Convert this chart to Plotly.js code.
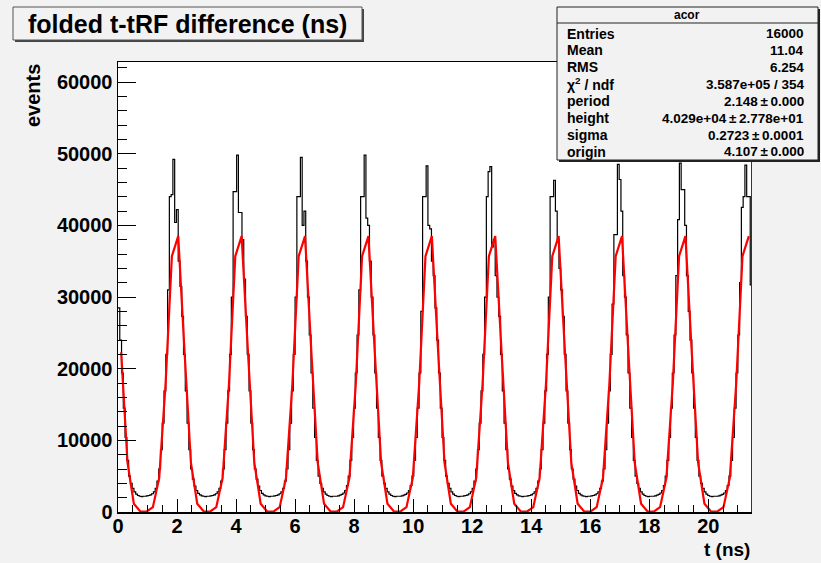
<!DOCTYPE html>
<html>
<head>
<meta charset="utf-8">
<script src="https://cdn.plot.ly/plotly-3.0.1.min.js"></script>
<style>html,body{margin:0;padding:0;background:#f2f2f2;}#chart{width:821px;height:563px;}</style>
</head>
<body>
<div id="chart"></div>
<script>
// Histogram: 358 bins of 0.06 ns over [0, 21.48]
const binStart = 0;
const binWidth = 0.06;
const counts = [
28500,24000,19400,14500,10400,7200,5000,4000,3300,2800,2500,2300,2200,2150,2200,
2200,2250,2300,2400,2550,2800,3300,4300,6000,8700,12400,16900,22000,31000,44000,44300,49200,40400,42200,35000,31500,27300,22000,16900,12400,8700,6000,4600,3600,3000,2600,2400,2250,2200,2150,2200,
2200,2250,2300,2400,2550,2800,3300,4300,6000,8700,12400,16900,22000,30000,44700,44700,49800,41800,41800,38000,32500,27300,22000,16900,12400,8700,6000,4600,3600,3000,2600,2400,2250,2200,2150,
2200,2200,2250,2300,2400,2550,2800,3300,4300,6000,8700,12400,16900,22000,30000,44000,44000,49500,40000,42000,35000,30000,24700,19400,14500,10400,7200,5000,4000,3300,2800,2500,2300,2200,2150,2200,
2200,2200,2250,2350,2450,2650,3000,3700,5000,7200,10400,14500,19400,24700,31000,44000,44000,49800,41000,40000,35000,30000,24700,19400,14500,10400,7200,5000,4000,3300,2800,2500,2300,2200,2150,2200,
2200,2200,2250,2350,2450,2650,3000,3700,5000,7200,10400,14500,19400,28000,44000,44000,48300,40000,39500,35000,33000,28500,24000,19400,14500,10400,7200,5000,4000,3300,2800,2500,2300,2200,2150,2200,
2200,2250,2300,2400,2550,2800,3300,4300,6000,8700,12400,16900,22000,30000,44000,47500,48200,37000,38000,33000,30000,27300,22000,16900,12400,8700,6000,4600,3600,3000,2600,2400,2250,2200,2150,2200,
2200,2250,2300,2400,2550,2800,3300,4300,6000,8700,12400,16900,22000,30000,44000,44000,46300,42000,38000,34000,31000,27300,22000,16900,12400,8700,6000,4600,3600,3000,2600,2400,2250,2200,2150,
2200,2200,2250,2300,2400,2550,2800,3300,4300,6000,8700,12400,16900,22000,29000,38700,38700,48500,46400,42000,33000,30000,24700,19400,14500,10400,7200,5000,4000,3300,2800,2500,2300,2200,2150,2200,
2200,2200,2250,2350,2450,2650,3000,3700,5000,7200,10400,14500,19400,24700,33000,40800,48700,45000,45000,40000,33000,28000,24000,19400,14500,10400,7200,5000,4000,3300,2800,2500,2300,2200,2150,2200,
2200,2200,2250,2350,2450,2650,3000,3700,5000,7200,10400,14500,19400,24700,32000,42500,44000,48400,44000,44000,31700
];

// Fit curve as drawn: 100 points, first at 0.1074 ns, spacing 0.2148 ns
const fitStart = 0.1074;
const fitStep = 0.2148;
const fitValues = [
22300,6900,1150,100,50,680,4760,17800,35700,38500,
22300,6900,1150,100,50,680,4760,17800,35700,38500,
22300,6900,1150,100,50,680,4760,17800,35700,38500,
22300,6900,1150,100,50,680,4760,17800,35700,38500,
22300,6900,1150,100,50,680,4760,17800,35700,38500,
22300,6900,1150,100,50,680,4760,17800,35700,38500,
22300,6900,1150,100,50,680,4760,17800,35700,38500,
22300,6900,1150,100,50,680,4760,17800,35700,38500,
22300,6900,1150,100,50,680,4760,17800,35700,38500,
22300,6900,1150,100,50,680,4760,17800,35700,38500
];

const xMax = 21.48;
const yMax = 62800;
const yTicks = [0,10000,20000,30000,40000,50000,60000];

const titleText = "folded t-tRF difference (ns)";
const statsName = "acor";
const statsLabels = ["Entries","Mean","RMS","χ<sup>2</sup> / ndf","period","height","sigma","origin"];
const statsValues = ["16000","11.04","6.254","3.587e+05 / 354","2.148\u2009±\u20090.000","4.029e+04\u2009±\u20092.778e+01","0.2723\u2009±\u20090.0001","4.107\u2009±\u20090.000"];

// ---- layout helpers (pixel -> paper) ----
const L = 118, R = 752, T = 62, B = 512;
const W = R - L, H = B - T;
const px = v => (v - L) / W;
const py = v => (B - v) / H;
const FONT = "'Liberation Sans', Arial, Helvetica, sans-serif";

const histY = counts.concat([counts[counts.length - 1]]);

const traces = [
  {type:'scatter', mode:'lines', x0:binStart, dx:binWidth, y:histY,
   line:{shape:'hv', color:'#000', width:1.2}, hoverinfo:'skip'},
  {type:'scatter', mode:'lines', x0:fitStart, dx:fitStep, y:fitValues,
   line:{color:'#ff0000', width:2.2}, hoverinfo:'skip'}
];

const shapes = [
  // right frame (red)
  {type:'line', layer:'above', xref:'x', yref:'paper', x0:xMax, x1:xMax, y0:0, y1:1, line:{color:'#b00000', width:2}},
  // title box shadow + box
  {type:'rect', xref:'paper', yref:'paper', x0:px(15), x1:px(364), y0:py(42), y1:py(9), fillcolor:'#444', line:{width:0}},
  {type:'rect', xref:'paper', yref:'paper', x0:px(13), x1:px(362), y0:py(40), y1:py(7), fillcolor:'#f2f2f2', line:{color:'#555', width:1}},
  // stats box shadow + box
  {type:'rect', xref:'paper', yref:'paper', x0:px(559), x1:px(820), y0:py(162), y1:py(9), fillcolor:'#222', line:{width:0}},
  {type:'rect', xref:'paper', yref:'paper', x0:px(557), x1:px(818), y0:py(160), y1:py(7), fillcolor:'#f2f2f2', line:{color:'#222', width:1}},
  {type:'line', xref:'paper', yref:'paper', x0:px(557), x1:px(818), y0:py(23), y1:py(23), line:{color:'#222', width:1}}
];

const annotations = [
  {xref:'paper', yref:'paper', x:px(187), y:py(24), text:titleText, showarrow:false,
   xanchor:'center', yanchor:'middle', font:{family:FONT, size:25, weight:'bold', color:'#000'}},
  {xref:'paper', yref:'paper', x:px(687), y:py(15), text:statsName, showarrow:false,
   xanchor:'center', yanchor:'middle', font:{family:FONT, size:12, weight:'bold', color:'#000'}},
  {xref:'paper', yref:'paper', x:px(33), y:py(96), text:'events', textangle:-90, showarrow:false,
   xanchor:'center', yanchor:'middle', font:{family:FONT, size:20, weight:'bold', color:'#000'}},
  {xref:'paper', yref:'paper', x:1, y:py(549), text:'t (ns)', showarrow:false,
   xanchor:'right', yanchor:'middle', font:{family:FONT, size:19, weight:'bold', color:'#000'}}
];
const rowY = [33.5,50.4,67.3,84.2,101,118,135,151.5];
statsLabels.forEach((s,i) => {
  annotations.push({xref:'paper', yref:'paper', x:px(565), y:py(rowY[i]), text:s, showarrow:false,
    xanchor:'left', yanchor:'middle', font:{family:FONT, size:14, weight:'bold', color:'#000'}});
  annotations.push({xref:'paper', yref:'paper', x:px(806), y:py(rowY[i]), text:statsValues[i], showarrow:false,
    xanchor:'right', yanchor:'middle', font:{family:FONT, size:13.5, weight:'bold', color:'#000'}});
});

const layout = {
  width:821, height:563,
  margin:{l:L, r:821-R, t:T, b:563-B, pad:0},
  paper_bgcolor:'#f2f2f2', plot_bgcolor:'#ffffff',
  showlegend:false,
  xaxis:{range:[0,xMax], tick0:0, dtick:2, ticks:'inside', ticklen:13, tickwidth:1, tickcolor:'#000',
    ticklabelstandoff:-5,
    showline:true, linecolor:'#000', linewidth:1.5, mirror:true, showgrid:false, zeroline:false,
    minor:{dtick:0.5, ticks:'inside', ticklen:7, tickcolor:'#000', tickwidth:1, showgrid:false},
    tickfont:{family:FONT, size:20, weight:'bold', color:'#000'}},
  yaxis:{range:[0,yMax], tickvals:yTicks, tickformat:'d', ticks:'inside', ticklen:18, tickwidth:1, tickcolor:'#000',
    showline:true, linecolor:'#000', linewidth:1.5, mirror:false, showgrid:false, zeroline:false,
    minor:{dtick:2000, tick0:0, ticks:'inside', ticklen:9, tickcolor:'#000', tickwidth:1, showgrid:false},
    tickfont:{family:FONT, size:20, weight:'bold', color:'#000'}},
  shapes:shapes, annotations:annotations
};

Plotly.newPlot('chart', traces, layout, {staticPlot:true, displayModeBar:false});
</script>
</body>
</html>
